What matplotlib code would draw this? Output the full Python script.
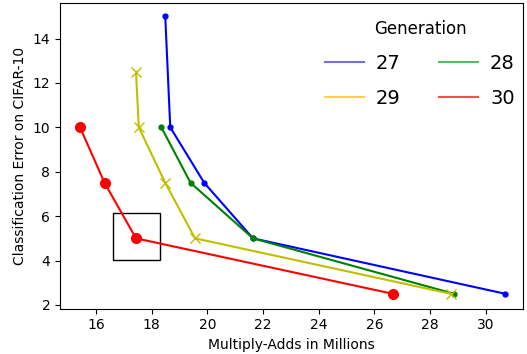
import matplotlib
matplotlib.use("Agg")
import matplotlib.pyplot as plt
from matplotlib.lines import Line2D
from matplotlib.patches import Rectangle

# multiply-adds (millions) and error for each generation
gen27_x = [18.49, 18.67, 19.89, 21.64, 30.71]
gen27_y = [15.0, 10.0, 7.5, 5.0, 2.5]
gen28_x = [18.35, 19.40, 21.64, 28.87]
gen28_y = [10.0, 7.5, 5.0, 2.5]
gen29_x = [17.44, 17.54, 18.49, 19.56, 28.75]
gen29_y = [12.5, 10.0, 7.5, 5.0, 2.5]
gen30_x = [15.43, 16.31, 17.44, 26.67]
gen30_y = [10.0, 7.5, 5.0, 2.5]

labels = ["27", "28", "29", "30"]
legend_colors = ["#7070e0", "#50c060", "#ffd040", "#f05050"]

fig = plt.figure(figsize=(5.27, 3.54), dpi=100)
ax = fig.add_axes([60 / 527, 1 - 308.7 / 354, (523 - 60) / 527, (308.7 - 3) / 354])

ax.plot(gen27_x, gen27_y, "b.-", markersize=7)
ax.plot(gen28_x, gen28_y, "g.-", markersize=7)
ax.plot(gen29_x, gen29_y, "yx-", markersize=7)
ax.plot(gen30_x, gen30_y, "ro-", markersize=7)

# highlight box around the gen 30 point
ax.add_patch(Rectangle((16.6, 4.02), 1.7, 2.1, fill=False, edgecolor="k", linewidth=1))

ax.set_xlim(14.71, 31.34)
ax.set_ylim(1.83, 15.6)
ax.set_xticks(range(16, 31, 2))
ax.set_yticks(range(2, 15, 2))
ax.set_xlabel("Multiply-Adds in Millions")
ax.set_ylabel("Classification Error on CIFAR-10")

handles = [Line2D([0], [0], color=c, linewidth=1.5) for c in legend_colors]
# matplotlib fills columns first, so reorder to get 27 28 / 29 30 in rows
order = [0, 2, 1, 3]
leg = ax.legend([handles[i] for i in order], [labels[i] for i in order],
                title="Generation", ncol=2, frameon=False,
                fontsize=14, title_fontsize=12, loc="upper right",
                bbox_to_anchor=(1.02, 1.0), columnspacing=2.0, handlelength=2.0,
                handletextpad=0.6, labelspacing=0.8)

fig.savefig("out.png", dpi=100)
